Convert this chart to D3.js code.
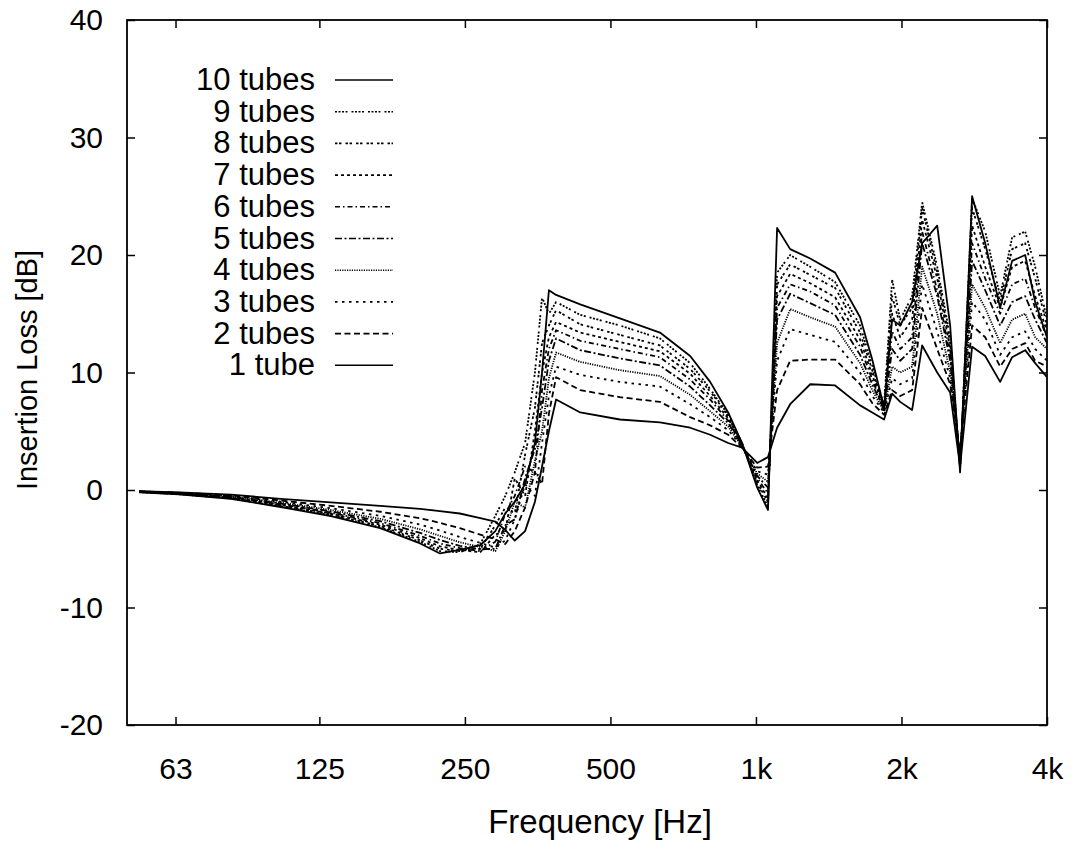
<!DOCTYPE html>
<html>
<head>
<meta charset="utf-8">
<title>Insertion Loss</title>
<script src="https://d3js.org/d3.v7.min.js"></script>
<style>
  body { margin: 0; background: #fff; }
  text { font-family: "Liberation Sans", Arial, Helvetica, sans-serif; fill: #000; }
</style>
</head>
<body>
<svg id="chart"></svg>
<script>
// frequencies [Hz] shared by every curve
var freqs = [53, 64, 82, 104, 132, 167, 202, 222, 244, 269,
             289, 303, 317, 333, 349, 361, 373, 386, 433, 523,
             633, 731, 804, 876, 936, 1006, 1059, 1106, 1177, 1295,
             1458, 1642, 1740, 1841, 1913, 1988, 2104, 2207, 2371, 2522,
             2644, 2800, 2980, 3200, 3388, 3605, 3781, 4000];

// insertion loss [dB]
var tube1  = [-0.10,-0.20,-0.40,-0.75,-1.05,-1.35,-1.60,-1.80,-2.00,-2.40,-2.70,-3.4,-4.3,-3.5,-1.0,2.0,5.0,7.7,6.6,6.0,5.75,5.3,4.7,4.0,3.6,2.3,2.8,5.3,7.3,9.0,8.9,7.2,6.6,6.0,8.2,7.5,6.8,12.3,10.0,8.3,2.0,12.2,11.4,9.2,11.3,11.9,10.8,9.6];
var tube2  = [-0.11,-0.22,-0.45,-0.90,-1.35,-1.85,-2.40,-2.80,-3.25,-3.80,-4.20,-4.6,-3.5,-1.5,1.5,0.5,6.5,9.6,8.5,7.9,7.5,6.2,5.5,4.7,3.6,1.9,2.0,8.5,11.0,11.1,11.1,9.0,7.4,6.4,8.5,8.0,8.5,15.5,12.0,9.0,3.2,14.0,13.0,10.5,12.0,12.5,11.0,10.5];
var tube3  = [-0.12,-0.24,-0.50,-1.00,-1.55,-2.20,-2.95,-3.45,-4.00,-4.50,-4.90,-4.3,-2.5,0.5,-0.5,4.0,8.0,10.5,9.8,9.2,8.8,7.3,6.2,5.1,3.7,1.6,1.3,11.0,13.7,13.2,12.6,10.0,8.0,6.6,9.5,9.0,9.5,17.5,13.5,9.5,3.0,16.0,14.5,11.5,13.0,13.5,12.0,11.0];
var tube4  = [-0.13,-0.26,-0.55,-1.08,-1.70,-2.45,-3.35,-3.90,-4.45,-4.85,-5.20,-3.5,-1.0,-1.5,2.5,5.0,9.5,11.7,10.9,10.2,9.7,8.1,6.7,5.4,3.7,1.4,0.7,12.5,15.4,14.7,13.9,10.8,8.5,6.7,10.5,10.0,10.5,19.0,15.0,10.0,2.8,17.5,15.5,12.5,14.5,15.0,13.0,12.0];
var tube5  = [-0.14,-0.28,-0.58,-1.15,-1.82,-2.65,-3.65,-4.25,-4.75,-5.05,-5.00,-3.0,-2.5,1.0,3.5,7.0,11.0,12.9,11.9,11.2,10.6,8.8,7.2,5.7,3.8,1.2,0.2,14.5,16.7,15.9,14.9,11.5,9.0,6.8,12.0,11.0,12.0,21.0,16.5,11.0,2.6,19.5,17.0,14.0,16.0,16.5,14.5,12.5];
var tube6  = [-0.15,-0.30,-0.62,-1.22,-1.92,-2.82,-3.90,-4.55,-4.95,-5.20,-4.40,-2.0,-0.5,2.0,1.5,8.5,12.0,13.6,12.7,12.0,11.3,9.4,7.7,5.9,3.8,1.0,-0.3,15.5,17.5,16.9,15.7,12.2,9.4,6.8,13.5,12.0,13.0,22.0,17.0,11.5,2.4,21.0,18.0,15.0,17.5,18.0,15.5,13.0];
var tube7  = [-0.16,-0.32,-0.65,-1.28,-2.00,-2.95,-4.10,-4.80,-5.10,-5.30,-3.80,-3.5,1.0,-0.5,5.0,10.0,13.0,14.3,13.4,12.6,11.8,9.9,8.0,6.1,3.9,0.8,-0.7,16.5,18.4,17.6,16.4,12.8,9.8,6.9,15.0,13.0,14.5,23.0,18.0,12.0,2.2,22.5,19.0,15.5,19.0,19.5,16.5,13.5];
var tube8  = [-0.17,-0.34,-0.68,-1.34,-2.08,-3.07,-4.28,-5.00,-5.20,-5.00,-3.00,-1.5,-2.0,3.0,7.0,12.5,14.0,15.3,14.1,13.2,12.3,10.3,8.4,6.3,3.9,0.6,-1.0,17.5,19.2,18.3,17.2,13.4,10.2,7.0,16.5,14.0,15.5,24.0,18.5,12.5,2.0,24.0,20.5,16.0,20.5,21.0,18.0,14.0];
var tube9  = [-0.18,-0.36,-0.72,-1.40,-2.15,-3.17,-4.42,-5.20,-5.30,-4.60,-2.20,-0.5,1.5,4.0,10.0,16.4,15.0,16.0,14.9,14.0,12.9,10.8,8.6,6.4,4.0,0.4,-1.4,18.5,20.0,19.0,17.7,14.0,10.6,7.2,17.9,14.5,16.5,24.5,19.0,13.0,1.8,24.8,22.0,16.5,21.5,22.0,19.0,14.5];
var tube10 = [-0.20,-0.38,-0.75,-1.45,-2.22,-3.25,-4.55,-5.40,-5.10,-4.70,-3.50,-2.0,-1.0,0.5,4.0,10.0,17.0,16.6,15.8,14.6,13.4,11.4,9.2,6.6,4.0,0.2,-1.7,22.3,20.5,19.7,18.5,14.7,11.1,7.0,14.5,14.0,16.0,21.0,22.5,14.0,1.5,25.0,21.0,15.5,19.5,20.0,16.0,13.0];

var seriesNames = ["10 tubes", "9 tubes", "8 tubes", "7 tubes", "6 tubes",
                   "5 tubes", "4 tubes", "3 tubes", "2 tubes", "1 tube"];
var seriesValues = [tube10, tube9, tube8, tube7, tube6, tube5, tube4, tube3, tube2, tube1];

var xTicks = [63, 125, 250, 500, 1000, 2000, 4000];
var xTickLabels = ["63", "125", "250", "500", "1k", "2k", "4k"];
var yTicks = [-20, -10, 0, 10, 20, 30, 40];

// line styles, one per legend row (gnuplot-like dash types)
var dashes = ["none", "2,1.5,2,1.5,2,1.5,2,4", "2.5,1.5,2.5,4", "3,3", "5,3,1.5,3",
              "7,2.5,2,2.5", "1.2,1.2", "2.5,4.5", "6,3.5", "none"];

(function() {
  var W = 1072, H = 847;
  var m = { left: 127, right: 1047, top: 20, bottom: 725 };

  var svg = d3.select("#chart").attr("width", W).attr("height", H);

  var x = d3.scaleLog().domain([50, 4000]).range([m.left, m.right]);
  var y = d3.scaleLinear().domain([-20, 40]).range([m.bottom, m.top]);

  svg.append("clipPath").attr("id", "clip")
    .append("rect").attr("x", m.left).attr("y", m.top)
    .attr("width", m.right - m.left).attr("height", m.bottom - m.top);

  // curves
  var line = d3.line()
      .x(function(d) { return x(d[0]); })
      .y(function(d) { return y(d[1]); });

  var curves = svg.append("g").attr("clip-path", "url(#clip)");
  seriesValues.forEach(function(vals, i) {
    var pts = freqs.map(function(f, j) { return [f, vals[j]]; });
    curves.append("path")
      .attr("d", line(pts))
      .attr("fill", "none")
      .attr("stroke", "#000")
      .attr("stroke-width", 1.8)
      .attr("stroke-linejoin", "round")
      .attr("stroke-dasharray", dashes[i]);
  });

  // axes, ticks pointing inward, mirrored on top and right
  var gx = svg.append("g").attr("transform", "translate(0," + m.bottom + ")")
    .call(d3.axisBottom(x).tickValues(xTicks).tickSize(-8).tickPadding(33)
          .tickFormat(function(d, i) { return xTickLabels[i]; }));
  var gxt = svg.append("g").attr("transform", "translate(0," + m.top + ")")
    .call(d3.axisTop(x).tickValues(xTicks).tickSize(-8).tickFormat(""));
  var gy = svg.append("g").attr("transform", "translate(" + m.left + ",0)")
    .call(d3.axisLeft(y).tickValues(yTicks).tickSize(-8).tickPadding(24)
          .tickFormat(function(d) { return String(d); }));
  var gyr = svg.append("g").attr("transform", "translate(" + m.right + ",0)")
    .call(d3.axisRight(y).tickValues(yTicks).tickSize(-8).tickFormat(""));

  [gx, gxt, gy, gyr].forEach(function(g) {
    g.select(".domain").remove();
    g.selectAll("line").attr("stroke", "#000").attr("stroke-width", 1.5);
    g.selectAll("text").style("font-size", "30px")
      .style("font-family", "'Liberation Sans', Arial, sans-serif");
  });

  // frame
  svg.append("rect")
    .attr("x", m.left).attr("y", m.top)
    .attr("width", m.right - m.left).attr("height", m.bottom - m.top)
    .attr("fill", "none").attr("stroke", "#000").attr("stroke-width", 1.8);

  // axis titles
  svg.append("text")
    .attr("x", 600).attr("y", 833)
    .attr("text-anchor", "middle").style("font-size", "33px")
    .text("Frequency [Hz]");

  svg.append("text")
    .attr("transform", "translate(37,370) rotate(-90)")
    .attr("text-anchor", "middle").style("font-size", "29px")
    .text("Insertion Loss [dB]");

  // legend
  var legend = svg.append("g");
  seriesNames.forEach(function(name, i) {
    var cy = 80 + i * 31.7;
    legend.append("text")
      .attr("x", 315).attr("y", cy + 10)
      .attr("text-anchor", "end").style("font-size", "31px")
      .text(name);
    legend.append("line")
      .attr("x1", 335).attr("x2", 393).attr("y1", cy).attr("y2", cy)
      .attr("stroke", "#000").attr("stroke-width", 1.6)
      .attr("stroke-dasharray", dashes[i]);
  });
})();
</script>
</body>
</html>
